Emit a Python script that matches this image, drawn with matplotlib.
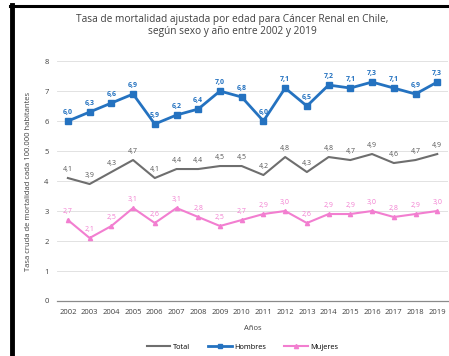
import numpy as np
import matplotlib
matplotlib.use('Agg')
import matplotlib.pyplot as plt
from matplotlib.lines import Line2D

plt.rcParams.update({'font.family': 'sans-serif', 'font.sans-serif': ['Open Sans', 'DejaVu Sans']})

years = list(range(2002, 2020))
total = [4.1, 3.9, 4.3, 4.7, 4.1, 4.4, 4.4, 4.5, 4.5, 4.2, 4.8, 4.3, 4.8, 4.7, 4.9, 4.6, 4.7, 4.9]
hombres = [6.0, 6.3, 6.6, 6.9, 5.9, 6.2, 6.4, 7.0, 6.8, 6.0, 7.1, 6.5, 7.2, 7.1, 7.3, 7.1, 6.9, 7.3]
mujeres = [2.7, 2.1, 2.5, 3.1, 2.6, 3.1, 2.8, 2.5, 2.7, 2.9, 3.0, 2.6, 2.9, 2.9, 3.0, 2.8, 2.9, 3.0]

c_tot, c_hom, c_muj = '#6e6e6e', '#2472c0', '#f27ed0'

fig = plt.figure(figsize=(4.49, 3.56), dpi=100)
ax = fig.add_axes([0.127, 0.1545, 0.871, 0.674])
x = np.arange(len(years))

ax.plot(x, total, color=c_tot, lw=1.5, label='Total')
ax.plot(x, hombres, color=c_hom, lw=2.0, marker='s', ms=3.8, label='Hombres')
ax.plot(x, mujeres, color=c_muj, lw=1.5, marker='^', ms=3, label='Mujeres')

def fmt(v):
    return f'{v:.1f}'.replace('.', ',')

for xi, v in zip(x, total):
    ax.text(xi, v + 0.18, fmt(v), ha='center', va='bottom', fontsize=5, color='#555555')
for xi, v in zip(x, hombres):
    ax.text(xi, v + 0.18, fmt(v), ha='center', va='bottom', fontsize=5, color=c_hom, fontweight='bold')
for xi, v in zip(x, mujeres):
    ax.text(xi, v + 0.18, fmt(v), ha='center', va='bottom', fontsize=5, color=c_muj)

ax.set_xlim(-0.5, len(years) - 0.5)
ax.set_ylim(0, 8)
ax.set_yticks(range(0, 9))
ax.set_xticks(x)
ax.set_xticklabels([str(y) for y in years])
ax.tick_params(axis='both', labelsize=5.5, colors='#404040', length=0, pad=6)
ax.grid(True, axis='y', color='#e2e2e2', lw=0.7)
ax.set_axisbelow(True)
for s in ['top', 'right', 'left']:
    ax.spines[s].set_visible(False)
ax.spines['bottom'].set_color('#8a8a8a')
ax.spines['bottom'].set_linewidth(0.9)

ax.set_xlabel('Años', fontsize=5.5, color='#404040', labelpad=6)
ax.set_ylabel('Tasa cruda de mortalidad cada 100.000 habitantes', fontsize=5.5, color='#404040', labelpad=9)

fig.text(0.517, 0.945, 'Tasa de mortalidad ajustada por edad para Cáncer Renal en Chile,',
         ha='center', va='center', fontsize=7.3, color='#404040')
fig.text(0.517, 0.912, 'según sexo y año entre 2002 y 2019',
         ha='center', va='center', fontsize=7.3, color='#404040')

handles = [Line2D([], [], color=c_tot, lw=1.5),
           Line2D([], [], color=c_hom, lw=2.0, marker='s', ms=3),
           Line2D([], [], color=c_muj, lw=1.5, marker='^', ms=3)]
fig.legend(handles, ['Total', 'Hombres', 'Mujeres'], loc='center', bbox_to_anchor=(0.54, 0.025),
           ncol=3, frameon=False, fontsize=5.3, handlelength=3.2, columnspacing=2.5, handletextpad=0.3)

# screenshot frame
fig.add_artist(Line2D([0.027, 0.027], [0, 0.985], color='black', lw=3.5, transform=fig.transFigure))
fig.add_artist(Line2D([0.022, 1.0], [0.982, 0.982], color='black', lw=2.2, transform=fig.transFigure))

fig.savefig('out.png', dpi=100)
